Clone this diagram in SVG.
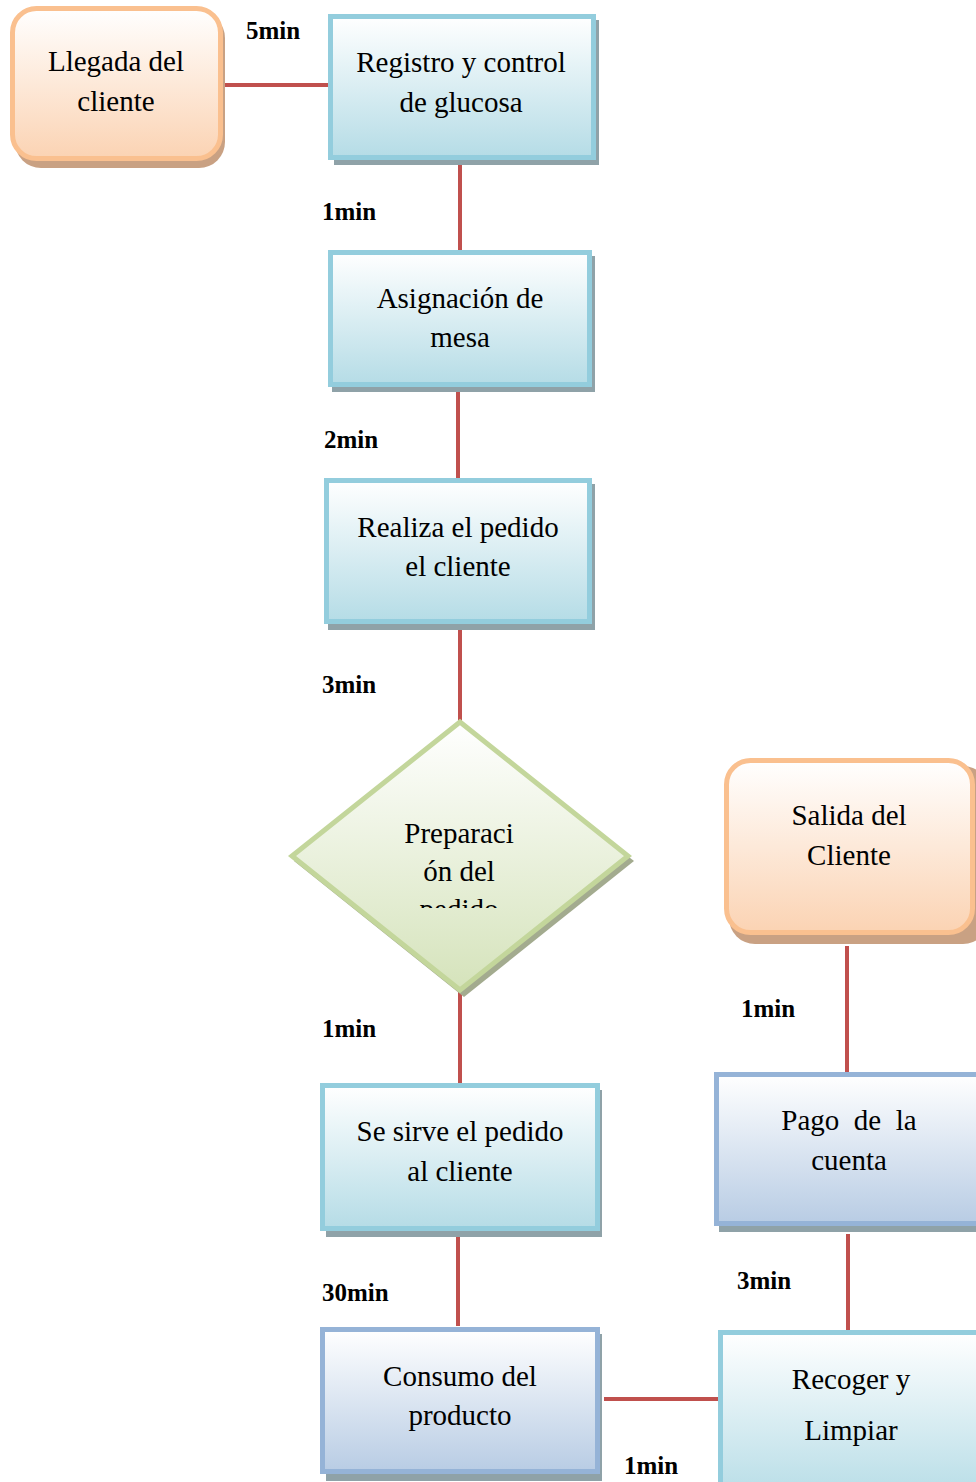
<svg xmlns="http://www.w3.org/2000/svg" width="976" height="1482" viewBox="0 0 976 1482">
<defs>
<linearGradient id="gOrange" x1="0" y1="0" x2="0" y2="1"><stop offset="0" stop-color="#ffffff"/><stop offset="1" stop-color="#fbd3b3"/></linearGradient>
<linearGradient id="gAqua" x1="0" y1="0" x2="0" y2="1"><stop offset="0" stop-color="#ffffff"/><stop offset="1" stop-color="#b5dce6"/></linearGradient>
<linearGradient id="gBlue" x1="0" y1="0" x2="0" y2="1"><stop offset="0" stop-color="#ffffff"/><stop offset="1" stop-color="#b8cce4"/></linearGradient>
<linearGradient id="gGreen" x1="0" y1="0" x2="0" y2="1"><stop offset="0" stop-color="#ffffff"/><stop offset="1" stop-color="#d5e3bb"/></linearGradient>
<clipPath id="clipDia"><rect x="380" y="800" width="160" height="108"/></clipPath>
</defs>
<style>
.t{font-family:"Liberation Serif","Times New Roman",serif;font-size:29px;fill:#000;text-anchor:middle}
.l{font-family:"Liberation Serif","Times New Roman",serif;font-size:25px;font-weight:bold;fill:#000}
.c{stroke:#c0504d;stroke-width:4;fill:none}
.aqua{fill:url(#gAqua);stroke:#93cddd;stroke-width:5}
.blue{fill:url(#gBlue);stroke:#95b3d7;stroke-width:5}
.orange{fill:url(#gOrange);stroke:#fac08f;stroke-width:5}
.green{fill:url(#gGreen);stroke:#c3d69b;stroke-width:5}
.shB{fill:#8fa2a8}
.shO{fill:#c9a183}
.shG{fill:#a3ab8f}
</style>
<g id="connectors">
<line class="c" x1="218" y1="85" x2="330" y2="85"/>
<line class="c" x1="460" y1="160" x2="460" y2="253"/>
<line class="c" x1="458" y1="387" x2="458" y2="480"/>
<line class="c" x1="460" y1="624" x2="460" y2="721"/>
<line class="c" x1="460" y1="990" x2="460" y2="1084"/>
<line class="c" x1="458" y1="1231" x2="458" y2="1326"/>
<line class="c" x1="604" y1="1399" x2="719" y2="1399"/>
<line class="c" x1="848" y1="1234" x2="848" y2="1331"/>
<line class="c" x1="847" y1="946" x2="847" y2="1073"/>
</g>
<g id="labels">
<text class="l" x="246" y="39">5min</text>
<text class="l" x="322" y="220">1min</text>
<text class="l" x="324" y="448">2min</text>
<text class="l" x="322" y="693">3min</text>
<text class="l" x="322" y="1037">1min</text>
<text class="l" x="322" y="1301">30min</text>
<text class="l" x="741" y="1017">1min</text>
<text class="l" x="737" y="1289">3min</text>
<text class="l" x="624" y="1474">1min</text>
</g>
<g id="llegada">
<rect class="shO" x="15" y="12" width="210" height="156" rx="26"/>
<rect class="orange" x="12.5" y="8.5" width="208" height="150" rx="24"/>
<text class="t" x="116" y="71">Llegada del</text>
<text class="t" x="116" y="111">cliente</text>
</g>
<g id="registro">
<rect class="shB" x="334" y="20" width="265" height="145"/>
<rect class="aqua" x="330.5" y="16.5" width="263" height="141"/>
<text class="t" x="461" y="72">Registro y control</text>
<text class="t" x="461" y="112">de glucosa</text>
</g>
<g id="asignacion">
<rect class="shB" x="332" y="256" width="263" height="136"/>
<rect class="aqua" x="330.5" y="252.5" width="259" height="132"/>
<text class="t" x="460" y="308">Asignación de</text>
<text class="t" x="460" y="347">mesa</text>
</g>
<g id="realiza">
<rect class="shB" x="328" y="484" width="267" height="146"/>
<rect class="aqua" x="326.5" y="480.5" width="263" height="141"/>
<text class="t" x="458" y="537">Realiza el pedido</text>
<text class="t" x="458" y="576">el cliente</text>
</g>
<g id="preparacion">
<polygon class="shG" points="464,727 634,861 464,997 294,861"/>
<polygon class="green" points="460,722 628,856 460,990 292,856"/>
<g clip-path="url(#clipDia)">
<text class="t" x="459" y="843">Preparaci</text>
<text class="t" x="459" y="881">ón del</text>
<text class="t" x="459" y="919">pedido</text>
</g>
</g>
<g id="sirve">
<rect class="shB" x="326" y="1090" width="276" height="147"/>
<rect class="aqua" x="322.5" y="1085.5" width="275" height="143"/>
<text class="t" x="460" y="1141">Se sirve el pedido</text>
<text class="t" x="460" y="1181">al cliente</text>
</g>
<g id="consumo">
<rect class="shB" x="326" y="1334" width="276" height="147"/>
<rect class="blue" x="322.5" y="1329.5" width="275" height="142"/>
<text class="t" x="460" y="1386">Consumo del</text>
<text class="t" x="460" y="1425">producto</text>
</g>
<g id="salida">
<rect class="shO" x="729" y="766" width="260" height="178" rx="26"/>
<rect class="orange" x="726.5" y="760.5" width="246" height="172" rx="24"/>
<text class="t" x="849" y="825">Salida del</text>
<text class="t" x="849" y="865">Cliente</text>
</g>
<g id="pago">
<rect class="shB" x="719" y="1080" width="280" height="152"/>
<rect class="blue" x="716.5" y="1074.5" width="280" height="149"/>
<text class="t" x="849" y="1130" xml:space="preserve">Pago  de  la</text>
<text class="t" x="849" y="1170">cuenta</text>
</g>
<g id="recoger">
<rect class="aqua" x="720.5" y="1332.5" width="280" height="170"/>
<text class="t" x="851" y="1389">Recoger y</text>
<text class="t" x="851" y="1440">Limpiar</text>
</g>
</svg>
